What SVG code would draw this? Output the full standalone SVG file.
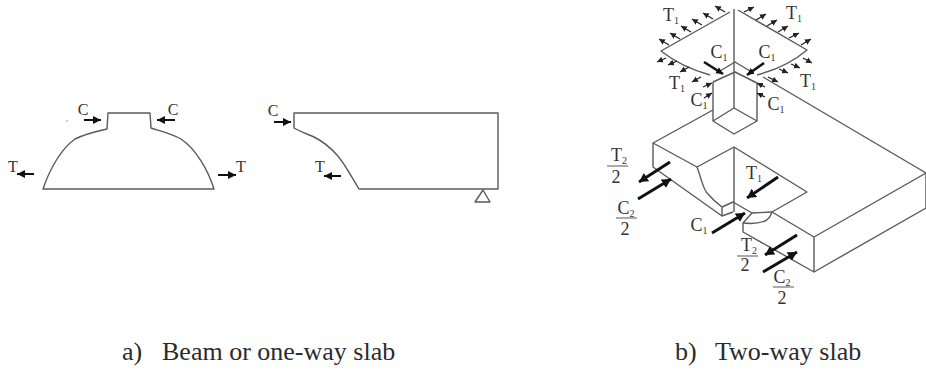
<svg xmlns="http://www.w3.org/2000/svg" width="926" height="370" viewBox="0 0 926 370">
<style>
text{font-family:"Liberation Serif","Times New Roman",serif;fill:#333}
.l{font-size:16px;text-anchor:middle}
.n{font-size:18px;text-anchor:middle}
.s{font-size:10px}
.cap{font-size:26px;fill:#2b2b2b}
.o{fill:none;stroke:#5a5a5a;stroke-width:1.4;stroke-linejoin:round}
.f{stroke:#666;stroke-width:1.1;fill:none}
.a{stroke:#111;stroke-width:2;fill:none;marker-end:url(#h)}
.b{stroke:#111;stroke-width:3;fill:none;marker-end:url(#hb)}
.t{stroke:#222;stroke-width:1.3;fill:none;marker-end:url(#hs)}
.k{stroke:#111;stroke-width:2.6;fill:none;marker-end:url(#hs2)}
</style>
<defs>
<marker id="h" markerUnits="userSpaceOnUse" markerWidth="10" markerHeight="10" refX="8" refY="5" orient="auto"><path d="M0 1 L8 5 L0 9Z" fill="#111"/></marker>
<marker id="hb" markerUnits="userSpaceOnUse" markerWidth="11" markerHeight="12" refX="9" refY="6" orient="auto"><path d="M0 1 L9 6 L0 11Z" fill="#111"/></marker>
<marker id="hs" markerUnits="userSpaceOnUse" markerWidth="7" markerHeight="7" refX="6" refY="3.5" orient="auto"><path d="M0 0.5 L6 3.5 L0 6.5Z" fill="#222"/></marker>
<marker id="hs2" markerUnits="userSpaceOnUse" markerWidth="8" markerHeight="8" refX="7" refY="4" orient="auto"><path d="M0 0.5 L7 4 L0 7.5Z" fill="#111"/></marker>
</defs>

<g id="beam">
<path class="o" d="M43 189 H214 C208 170 196 149 181 139 C172 134 160 131 151 128 L150 113 H108 L107 129 C98 131 85 134 75 139 C62 148 50 168 43 189Z"/>
<circle cx="67" cy="121" r="0.8" fill="#888"/>
<text class="l" x="83" y="115">C</text>
<text class="l" x="173" y="115">C</text>
<text class="l" x="13" y="172">T</text>
<text class="l" x="241" y="172">T</text>
<path class="a" d="M84 120H101"/>
<path class="a" d="M175 120H157"/>
<path class="a" d="M34 174H17"/>
<path class="a" d="M218 175H236"/>
</g>

<g id="one-way-slab">
<path class="o" d="M294 113 H498 V189 H359 C351 176 345 164 337 155 C329 146 322 141 314 137 C307 134 299 131 294 128Z"/>
<path class="o" d="M483 190 L475 202 H490Z"/>
<text class="l" x="273" y="116">C</text>
<text class="l" x="320" y="172">T</text>
<path class="a" d="M274 122H291"/>
<path class="a" d="M341 176H324"/>
</g>

<g id="two-way-slab">
<path class="o" d="M730 12 L661 51 C675 62 692 70 710 75"/>
<path class="o" d="M738 10 L807 50 C793 62 776 70 757 75"/>
<path class="o" d="M734 9 V108"/>
<path class="o" d="M720 71 L735 62 L750 71"/>
<path class="o" d="M713 82 L735 72 L757 83"/>
<path class="o" d="M713 82 V121 L734 134 L757 121 V83"/>
<path class="o" d="M713 121 L734 108 L757 121"/>
<path class="o" d="M713 110 L653 143 V167 L722 216"/>
<path class="o" d="M763 77 L926 173 V208 L814 272"/>
<path class="o" d="M926 173 L814 237 V272 L743 232 V223 L752 213"/>
<path class="o" d="M653 143 L697 167 L734 147 L807 192 L772 212 L814 237"/>
<path class="o" d="M697 167 C702 180 703 190 708 194 C713 200 718 204 722 207 V216 L733 212"/>
<path class="o" d="M722 207 L733 202 L752 213 L772 212"/>
<path class="o" d="M734 147 V212"/>
<path class="o" d="M743 223 C752 224 760 223 765 221 C769 219 771 215 772 212"/>
</g>

<g id="connectors">
<path class="t" d="M725 12L715 6"/>
<path class="t" d="M713 19L703 13"/>
<path class="t" d="M702 25L692 19"/>
<path class="t" d="M691 32L681 26"/>
<path class="t" d="M680 39L670 33"/>
<path class="t" d="M669 45L659 39"/>
<path class="t" d="M744 12L754 7"/>
<path class="t" d="M756 20L766 14"/>
<path class="t" d="M767 26L777 20"/>
<path class="t" d="M778 32L788 26"/>
<path class="t" d="M789 38L799 33"/>
<path class="t" d="M801 45L811 39"/>
<path class="t" d="M666 58L657 62"/>
<path class="t" d="M677 61L668 65"/>
<path class="t" d="M689 67L680 72"/>
<path class="t" d="M701 77L692 82"/>
<path class="t" d="M803 58L812 63"/>
<path class="t" d="M791 64L800 68"/>
<path class="t" d="M779 69L788 73"/>
<path class="t" d="M768 77L778 82"/>
<path class="t" d="M703 87L712 83"/>
<path class="t" d="M704 98L712 93"/>
<path class="t" d="M765 87L757 83"/>
<path class="t" d="M765 97L757 93"/>
<path class="k" d="M704 62L723 74"/>
<path class="k" d="M764 63L747 75"/>
<path class="b" d="M670 162L639 182"/>
<path class="b" d="M638 199L671 179"/>
<path class="b" d="M778 177L747 198"/>
<path class="b" d="M712 233L745 213"/>
<path class="b" d="M797 235L765 255"/>
<path class="b" d="M763 272L797 252"/>
</g>

<g id="labels">
<text class="n" x="671" y="21">T<tspan class="s" dy="3">1</tspan></text>
<text class="n" x="794" y="19">T<tspan class="s" dy="3">1</tspan></text>
<text class="n" x="719" y="58">C<tspan class="s" dy="3">1</tspan></text>
<text class="n" x="767" y="58">C<tspan class="s" dy="3">1</tspan></text>
<text class="n" x="677" y="89">T<tspan class="s" dy="3">1</tspan></text>
<text class="n" x="808" y="87">T<tspan class="s" dy="3">1</tspan></text>
<text class="n" x="699" y="106">C<tspan class="s" dy="3">1</tspan></text>
<text class="n" x="776" y="110">C<tspan class="s" dy="3">1</tspan></text>
<text class="n" x="699" y="231">C<tspan class="s" dy="3">1</tspan></text>
<text class="n" x="754" y="179">T<tspan class="s" dy="3">1</tspan></text>
<text class="n" x="619" y="161">T<tspan class="s" dy="3">2</tspan></text>
<path class="f" d="M607 166H628"/>
<text class="n" x="616" y="183">2</text>
<text class="n" x="626" y="214">C<tspan class="s" dy="3">2</tspan></text>
<path class="f" d="M616 218H637"/>
<text class="n" x="625" y="235">2</text>
<text class="n" x="749" y="251">T<tspan class="s" dy="3">2</tspan></text>
<path class="f" d="M737 256H758"/>
<text class="n" x="745" y="271">2</text>
<text class="n" x="782" y="283">C<tspan class="s" dy="3">2</tspan></text>
<path class="f" d="M773 287H794"/>
<text class="n" x="782" y="304">2</text>
</g>

<text class="cap" x="122" y="360">a)</text>
<text class="cap" x="162" y="360">Beam or one-way slab</text>
<text class="cap" x="675" y="360">b)</text>
<text class="cap" x="715" y="360">Two-way slab</text>
</svg>
